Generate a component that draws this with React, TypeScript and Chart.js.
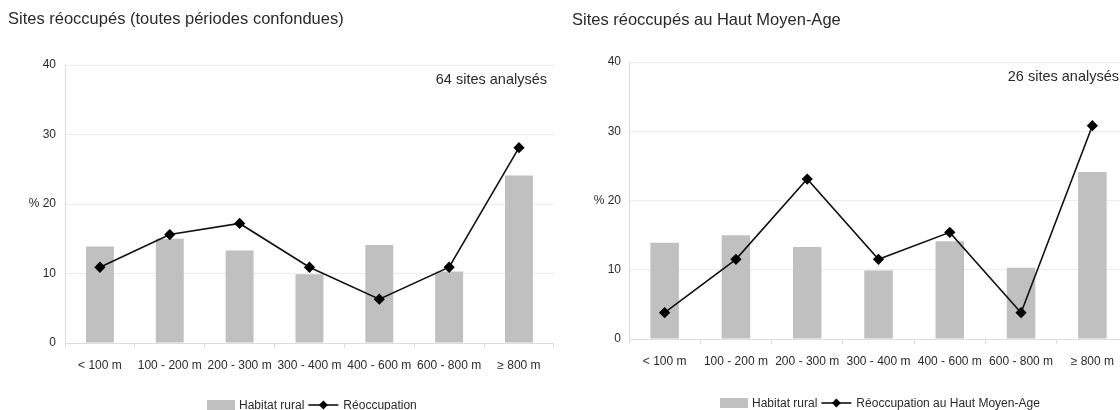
import React, { useEffect, useRef } from "react";
import { Chart, registerables } from "chart.js";
Chart.register(...registerables);

const categories = ["< 100 m", "100 - 200 m", "200 - 300 m", "300 - 400 m", "400 - 600 m", "600 - 800 m", "≥ 800 m"];
const habitatRural = [13.9, 15.0, 13.3, 9.9, 14.1, 10.3, 24.1];
const reoccupationAll = [10.9, 15.6, 17.2, 10.9, 6.3, 10.9, 28.1];
const reoccupationHMA = [3.8, 11.5, 23.1, 11.5, 15.4, 3.8, 30.8];
const yMin = 0;
const yMax = 40;
const yStep = 10;
const barLabel = "Habitat rural";
const lineLabelAll = "Réoccupation";
const lineLabelHMA = "Réoccupation au Haut Moyen-Age";
const titleAll = "Sites réoccupés (toutes périodes confondues)";
const titleHMA = "Sites réoccupés au Haut Moyen-Age";
const noteAll = "64 sites analysés";
const noteHMA = "26 sites analysés";

const FONT = "'Liberation Sans', Arial, sans-serif";
const BAR_COLOR = "#c0c0c0";
const GRID_COLOR = "#ececec";
const TEXT_COLOR = "#2a2a2a";

type Panel = {
  left: number;
  width: number;
  height: number;
  pad: { top: number; left: number; right: number; bottom: number };
  yWidth: number;
  yPad: number;
  title: string;
  titleX: number;
  titleY: number;
  note: string;
  noteX: number;
  noteY: number;
  legendX: number;
  legendY: number;
  lineLabel: string;
  line: number[];
};

const panels: Panel[] = [
  {
    left: 0, width: 560, height: 410,
    pad: { top: 65, left: 0, right: 4, bottom: 37 },
    yWidth: 65, yPad: 9,
    title: titleAll, titleX: 8, titleY: 24,
    note: noteAll, noteX: 547, noteY: 84,
    legendX: 207, legendY: 405,
    lineLabel: lineLabelAll, line: reoccupationAll,
  },
  {
    left: 560, width: 575, height: 410,
    pad: { top: 62, left: 0, right: 7, bottom: 41 },
    yWidth: 69, yPad: 8,
    title: titleHMA, titleX: 12, titleY: 25,
    note: noteHMA, noteX: 559, noteY: 81,
    legendX: 160, legendY: 403,
    lineLabel: lineLabelHMA, line: reoccupationHMA,
  },
];

function drawDiamond(ctx: CanvasRenderingContext2D, x: number, y: number, r: number) {
  ctx.beginPath();
  ctx.moveTo(x, y - r);
  ctx.lineTo(x + r, y);
  ctx.lineTo(x, y + r);
  ctx.lineTo(x - r, y);
  ctx.closePath();
  ctx.fill();
}

function ChartPanel({ p }: { p: Panel }) {
  const ref = useRef<HTMLCanvasElement | null>(null);
  useEffect(() => {
    if (!ref.current) return;
    const decor = {
      id: "decor",
      afterDraw(chart: any) {
        const ctx: CanvasRenderingContext2D = chart.ctx;
        ctx.save();
        ctx.fillStyle = TEXT_COLOR;
        ctx.textBaseline = "alphabetic";
        ctx.font = `16.5px ${FONT}`;
        ctx.textAlign = "left";
        ctx.fillText(p.title, p.titleX, p.titleY);
        ctx.font = `14.5px ${FONT}`;
        ctx.textAlign = "right";
        ctx.fillText(p.note, p.noteX, p.noteY);
        // legend
        ctx.font = `12px ${FONT}`;
        ctx.textAlign = "left";
        const boxW = 28, lineW = 30;
        const w1 = ctx.measureText(barLabel).width;
        let x = p.legendX;
        const y = p.legendY;
        ctx.fillStyle = BAR_COLOR;
        ctx.fillRect(x, y - 5, boxW, 10);
        x += boxW + 4;
        ctx.fillStyle = TEXT_COLOR;
        ctx.fillText(barLabel, x, y + 4);
        x += w1 + 4;
        ctx.strokeStyle = "#000";
        ctx.lineWidth = 1.5;
        ctx.beginPath();
        ctx.moveTo(x, y);
        ctx.lineTo(x + lineW, y);
        ctx.stroke();
        ctx.fillStyle = "#000";
        drawDiamond(ctx, x + lineW / 2, y, 4.5);
        x += lineW + 5;
        ctx.fillStyle = TEXT_COLOR;
        ctx.fillText(p.lineLabel, x, y + 4);
        ctx.restore();
      },
    };
    const chart = new Chart(ref.current, {
      type: "bar",
      data: {
        labels: categories,
        datasets: [
          {
            type: "line",
            label: p.lineLabel,
            data: p.line,
            borderColor: "#111",
            borderWidth: 1.6,
            pointStyle: "rectRot",
            pointRadius: 4.5,
            pointBackgroundColor: "#000",
            pointBorderColor: "#000",
            tension: 0,
            order: 0,
          } as any,
          {
            type: "bar",
            label: barLabel,
            data: habitatRural,
            backgroundColor: BAR_COLOR,
            barPercentage: 0.4,
            categoryPercentage: 1,
            order: 1,
          },
        ],
      },
      options: {
        responsive: false,
        animation: false,
        layout: { padding: p.pad },
        plugins: {
          legend: { display: false },
          title: { display: false },
          tooltip: { enabled: false },
        },
        scales: {
          x: {
            offset: true,
            grid: {
              display: true,
              drawOnChartArea: false,
              drawTicks: true,
              tickLength: 5,
              color: "#dcdcdc",
              offset: true,
            },
            border: { display: true, color: "#dcdcdc" },
            ticks: {
              color: TEXT_COLOR,
              font: { family: FONT, size: 12 },
              padding: 10,
              maxRotation: 0,
              autoSkip: false,
            },
            afterFit: (s: any) => { s.height = 30; },
          },
          y: {
            min: yMin,
            max: yMax,
            ticks: {
              stepSize: yStep,
              color: TEXT_COLOR,
              font: { family: FONT, size: 12 },
              padding: p.yPad,
              callback: (v: any) => (v === 20 ? "% 20" : String(v)),
            },
            grid: { color: GRID_COLOR, drawTicks: false },
            border: { display: true, color: "#dcdcdc" },
            afterFit: (s: any) => { s.width = p.yWidth; },
          },
        },
      },
      plugins: [decor],
    });
    return () => chart.destroy();
  }, [p]);
  return (
    <canvas
      ref={ref}
      width={p.width}
      height={p.height}
      style={{ position: "absolute", left: p.left, top: 0, width: p.width, height: p.height, display: "block" }}
    />
  );
}

export default function App() {
  return (
    <div
      style={{
        position: "absolute",
        left: 0,
        top: 0,
        width: 1120,
        height: 410,
        overflow: "hidden",
        background: "#fff",
      }}
    >
      {panels.map((p, i) => (
        <ChartPanel key={i} p={p} />
      ))}
    </div>
  );
}
